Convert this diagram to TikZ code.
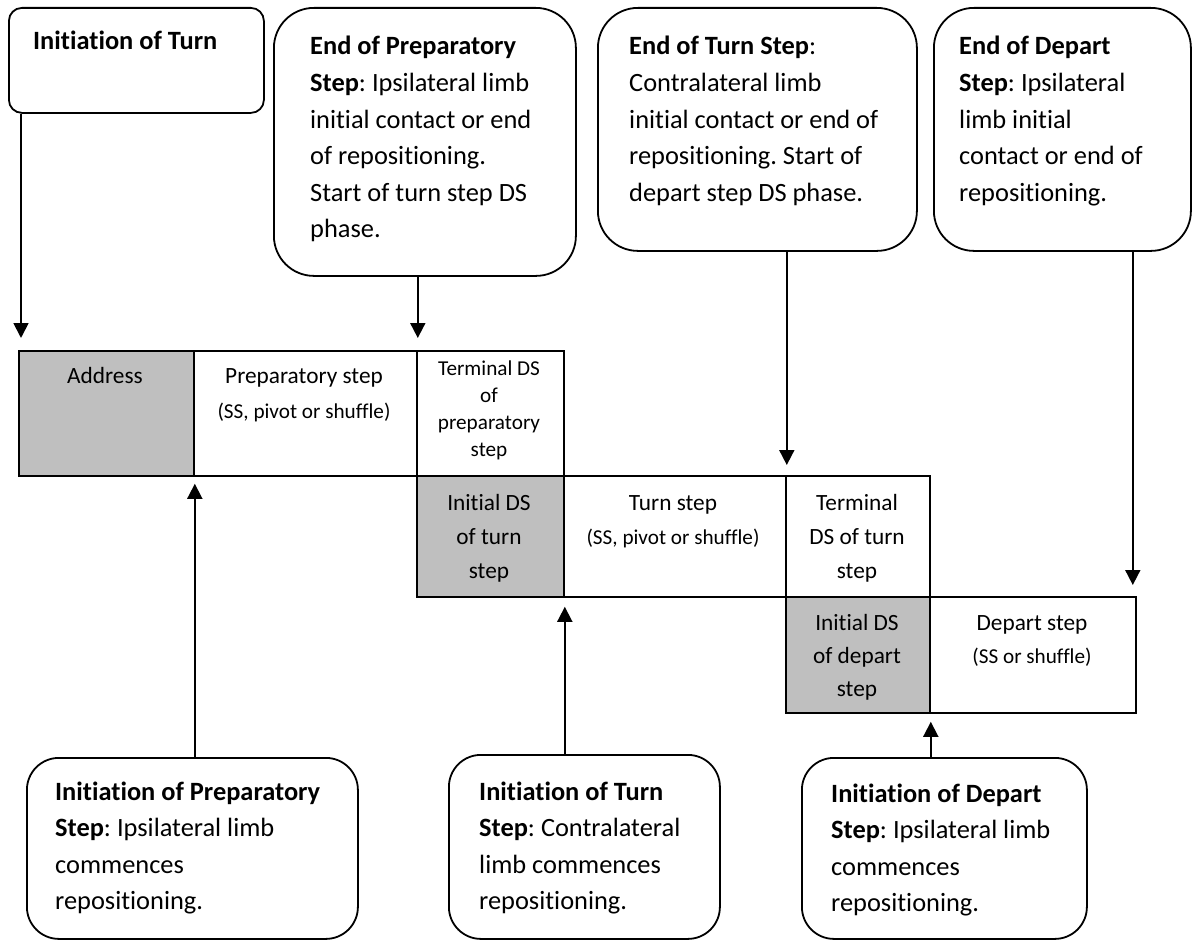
\documentclass[tikz,border=0pt]{standalone}
\usepackage{fontspec}
\setmainfont{Carlito}[RawFeature={-liga;-clig;-dlig;-calt;-hlig}]
\usetikzlibrary{arrows.meta}
\frenchspacing
\definecolor{cellgrey}{HTML}{BFBFBF}
\tikzset{
  callbox/.style={draw=black, line width=1.8pt, fill=white, anchor=north west, inner sep=0pt},
  cellbox/.style={draw=black, line width=1.8pt, anchor=north west, inner sep=0pt},
  txt/.style={anchor=base west, inner sep=0pt},
  ctxt/.style={anchor=base, inner sep=0pt},
  arr/.style={line width=1.8pt, -{Triangle[width=15pt,length=15pt]}},
}
\newcommand\calltext[2]{\parbox[t]{#1}{\raggedright\frenchspacing\fontsize{26.4}{36.6}\selectfont #2}}
\newcommand\celltext[2]{\parbox[t]{#1}{\centering\fontsize{23.3}{35}\selectfont #2}}
\newcommand\smalltxt[1]{{\fontsize{21.2}{30}\selectfont #1}}
\begin{document}
\begin{tikzpicture}[x=1pt,y=-1pt]
\useasboundingbox (0,0) rectangle (1197,942);
% cells
\node[cellbox, fill=cellgrey, minimum width=175, minimum height=125] (addr) at (18,350) {};
\node[cellbox, fill=white, minimum width=223, minimum height=125] (prep) at (193,350) {};
\node[cellbox, fill=white, minimum width=147, minimum height=125] (tprep) at (416,350) {};
\node[cellbox, fill=white, minimum width=223, minimum height=121] (turn) at (562,475) {};
\node[cellbox, fill=white, minimum width=144, minimum height=121] (tturn) at (785,475) {};
\node[cellbox, fill=cellgrey, minimum width=147, minimum height=121] (iturn) at (416,475) {};
\node[cellbox, fill=white, minimum width=206, minimum height=116] (dep) at (929,596) {};
\node[cellbox, fill=cellgrey, minimum width=144, minimum height=116] (idep) at (785,596) {};
% cell texts
\node[ctxt] (addrt) at (105,383) {\celltext{170pt}{Address}};
\node[ctxt] (prept) at (304,383) {\celltext{220pt}{Preparatory step\\\smalltxt{(SS, pivot or shuffle)}}};
\node[ctxt] (tprept) at (489,375) {\parbox[t]{140pt}{\centering\fontsize{21.2}{27}\selectfont Terminal DS\\of\\preparatory\\step}};
\node[ctxt] (iturnt) at (489,510) {\parbox[t]{140pt}{\centering\fontsize{23.3}{34}\selectfont Initial DS\\of turn\\step}};
\node[ctxt] (turnt) at (673,510) {\parbox[t]{220pt}{\centering\fontsize{23.3}{34}\selectfont Turn step\\\smalltxt{(SS, pivot or shuffle)}}};
\node[ctxt] (tturnt) at (857,510) {\parbox[t]{140pt}{\centering\fontsize{23.3}{34}\selectfont Terminal\\DS of turn\\step}};
\node[ctxt] (idept) at (857,630) {\parbox[t]{140pt}{\centering\fontsize{23.3}{33}\selectfont Initial DS\\of depart\\step}};
\node[ctxt] (dept) at (1032,630) {\parbox[t]{200pt}{\centering\fontsize{23.3}{33}\selectfont Depart step\\\smalltxt{(SS or shuffle)}}};
% top callouts
\node[callbox, rounded corners=13pt, minimum width=255, minimum height=105] (b1) at (8,7) {};
\node[callbox, rounded corners=40pt, minimum width=302, minimum height=268] (b2) at (273,7) {};
\node[callbox, rounded corners=40pt, minimum width=319, minimum height=243] (b3) at (597,7) {};
\node[callbox, rounded corners=40pt, minimum width=257, minimum height=243] (b4) at (933,7) {};
\node[txt] (b1t) at (33,50) {\calltext{230pt}{\textbf{Initiation of Turn}}};
\node[txt] (b2t) at (310,55) {\calltext{260pt}{\textbf{End of Preparatory}\\\textbf{Step}: Ipsilateral limb\\initial contact or end\\of repositioning.\\Start of turn step DS\\phase.}};
\node[txt] (b3t) at (629,55) {\calltext{285pt}{\textbf{End of Turn Step}:\\Contralateral limb\\initial contact or end of\\repositioning. Start of\\depart step DS phase.}};
\node[txt] (b4t) at (959,55) {\calltext{225pt}{\textbf{End of Depart}\\\textbf{Step}: Ipsilateral\\limb initial\\contact or end of\\repositioning.}};
% bottom callouts
\node[callbox, rounded corners=32pt, minimum width=331, minimum height=181] (p) at (26,757) {};
\node[callbox, rounded corners=32pt, minimum width=271, minimum height=184] (t) at (448,754) {};
\node[callbox, rounded corners=32pt, minimum width=285, minimum height=181] (d) at (801,757) {};
\node[txt] (pt) at (55,800) {\calltext{300pt}{\textbf{Initiation of Preparatory}\\\textbf{Step}: Ipsilateral limb\\commences\\repositioning.}};
\node[txt] (tt) at (479,800) {\calltext{235pt}{\textbf{Initiation of Turn}\\\textbf{Step}: Contralateral\\limb commences\\repositioning.}};
\node[txt] (dt) at (831,802) {\calltext{250pt}{\textbf{Initiation of Depart}\\\textbf{Step}: Ipsilateral limb\\commences\\repositioning.}};
% arrows
\draw[arr, shorten >=12pt] ([xshift=3pt]b1.south west -| addr.north west) -- ([xshift=3pt]addr.north west);
\draw[arr, shorten >=12pt] (b2.south -| prep.north east) -- (prep.north east);
\draw[arr, shorten >=10pt] (b3.south -| turn.north east) -- (turn.north east);
\draw[arr, shorten >=11pt] ([xshift=-4pt]b4.south -| dep.north east) -- ([xshift=-4pt]dep.north east);
\draw[arr, shorten >=7pt] (p.north -| addr.south east) -- (addr.south east);
\draw[arr, shorten >=9pt] (t.north -| iturn.south east) -- (iturn.south east);
\draw[arr, shorten >=8pt] (d.north -| idep.south east) -- (idep.south east);
\end{tikzpicture}
\end{document}
